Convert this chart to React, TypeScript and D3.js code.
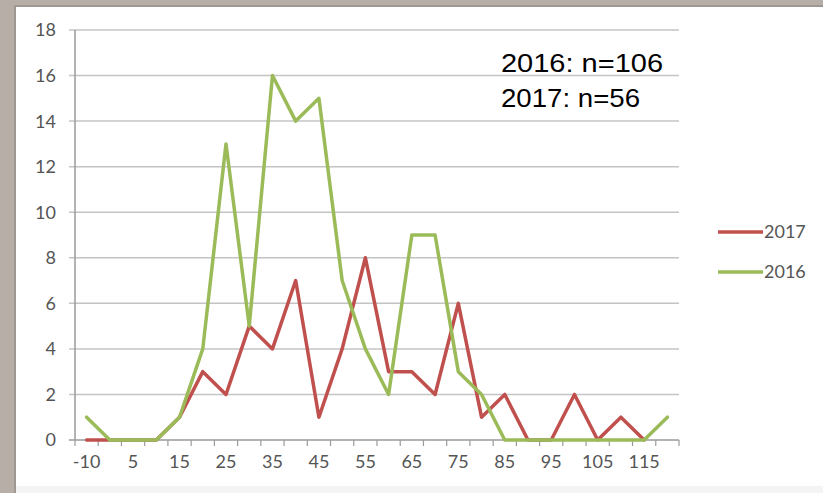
import React, { useRef, useEffect } from 'react';
import { select, scaleBand, scaleLinear, line } from 'd3';

// categories along x (every other one gets a label)
const categories = [-10, 0, 5, 10, 15, 20, 25, 30, 35, 40, 45, 50, 55, 60, 65, 70, 75, 80, 85, 90, 95, 100, 105, 110, 115, 120];
const values2017: (number | null)[] = [0, 0, 0, 0, 1, 3, 2, 5, 4, 7, 1, 4, 8, 3, 3, 2, 6, 1, 2, 0, 0, 2, 0, 1, 0, null];
const values2016: (number | null)[] = [1, 0, 0, 0, 1, 4, 13, 5, 16, 14, 15, 7, 4, 2, 9, 9, 3, 2, 0, 0, 0, 0, 0, 0, 0, 1];
const yTicks = [0, 2, 4, 6, 8, 10, 12, 14, 16, 18];
const seriesNames = ['2017', '2016'];
const notes = ['2016: n=106', '2017: n=56'];

const W = 823;
const H = 493;
const RED = '#c0504d';
const GREEN = '#9bbb59';
const LABEL = '#555555';
const FONT = 'Lato, "Open Sans", sans-serif';

export default function App() {
  const svgRef = useRef<SVGSVGElement>(null);

  useEffect(() => {
    const svg = select(svgRef.current);
    svg.selectAll('*').remove();

    // photo-ish frame around the slide
    svg.append('rect').attr('width', W).attr('height', H).attr('fill', '#b7aea7');
    svg.append('rect').attr('x', 14).attr('y', 5).attr('width', W - 14).attr('height', H - 5).attr('fill', '#9d9893');
    svg.append('rect').attr('x', 16).attr('y', 7).attr('width', W - 16).attr('height', H - 7).attr('fill', '#ffffff');
    svg.append('rect').attr('x', 16).attr('y', H - 7).attr('width', W - 16).attr('height', 7).attr('fill', '#f4f4f4');

    const x = scaleBand<string>()
      .domain(categories.map(String))
      .range([75, 679]);
    const y = scaleLinear().domain([0, 18]).range([440, 30]);
    const cx = (i: number) => (x(String(categories[i])) as number) + x.bandwidth() / 2;

    // gridlines + y ticks
    const g = svg.append('g');
    g.selectAll('.grid')
      .data(yTicks)
      .join('line')
      .attr('x1', 69)
      .attr('x2', 679)
      .attr('y1', d => y(d))
      .attr('y2', d => y(d))
      .attr('stroke', d => (d === 0 ? '#9a9a9a' : '#c4c4c4'))
      .attr('stroke-width', 1.5);

    g.selectAll('.ylab')
      .data(yTicks)
      .join('text')
      .attr('x', 56)
      .attr('y', d => y(d))
      .attr('dy', '0.36em')
      .attr('text-anchor', 'end')
      .attr('font-family', FONT)
      .attr('font-size', 18)
      .attr('fill', LABEL)
      .text(d => d);

    // y axis line
    g.append('line')
      .attr('x1', 75).attr('x2', 75)
      .attr('y1', y(18)).attr('y2', y(0))
      .attr('stroke', '#9a9a9a')
      .attr('stroke-width', 1.5);

    // x ticks at band edges
    const edges = categories.map(c => x(String(c)) as number).concat([679]);
    g.selectAll('.xtick')
      .data(edges)
      .join('line')
      .attr('x1', d => d).attr('x2', d => d)
      .attr('y1', 440).attr('y2', 446)
      .attr('stroke', '#9a9a9a')
      .attr('stroke-width', 1.2);

    g.selectAll('.xlab')
      .data(categories.filter((_, i) => i % 2 === 0))
      .join('text')
      .attr('x', d => (x(String(d)) as number) + x.bandwidth() / 2)
      .attr('y', 468)
      .attr('text-anchor', 'middle')
      .attr('font-family', FONT)
      .attr('font-size', 18)
      .attr('fill', LABEL)
      .text(d => d);

    // series lines, 2017 first so 2016 sits on top
    const lineGen = line<number | null>()
      .defined(d => d !== null)
      .x((_, i) => cx(i))
      .y(d => y(d as number));

    [values2017, values2016].forEach((vals, k) => {
      svg.append('path')
        .datum(vals)
        .attr('d', lineGen)
        .attr('fill', 'none')
        .attr('stroke', k === 0 ? RED : GREEN)
        .attr('stroke-width', 3.5)
        .attr('stroke-linejoin', 'round')
        .attr('stroke-linecap', 'round');
    });

    // legend
    const leg = svg.append('g');
    seriesNames.forEach((name, i) => {
      const ly = 232 + i * 40;
      leg.append('line')
        .attr('x1', 718).attr('x2', 763)
        .attr('y1', ly).attr('y2', ly)
        .attr('stroke', i === 0 ? RED : GREEN)
        .attr('stroke-width', 3.5);
      leg.append('text')
        .attr('x', 764)
        .attr('y', ly)
        .attr('dy', '0.36em')
        .attr('font-family', FONT)
        .attr('font-size', 18)
        .attr('fill', LABEL)
        .text(name);
    });

    // n annotation
    notes.forEach((t, i) => {
      svg.append('text')
        .attr('x', 501)
        .attr('y', 72 + i * 35)
        .attr('font-family', '"Liberation Sans", Arial, sans-serif')
        .attr('font-size', 26)
        .attr('fill', '#000')
        .attr('textLength', i === 0 ? 162 : 139)
        .attr('lengthAdjust', 'spacingAndGlyphs')
        .text(t);
    });
  }, []);

  return (
    <div style={{ position: 'fixed', left: 0, top: 0 }}>
      <svg ref={svgRef} width={W} height={H} style={{ display: 'block' }} />
    </div>
  );
}
